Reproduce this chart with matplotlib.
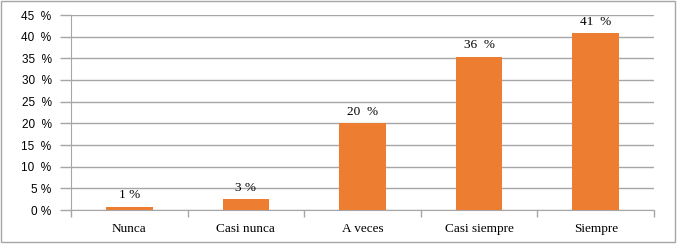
import numpy as np
import matplotlib
matplotlib.use("Agg")
import matplotlib.pyplot as plt
from matplotlib.patches import Rectangle

categories = ["Nunca", "Casi nunca", "A veces", "Casi siempre", "Siempre"]
values = [0.8, 2.5, 20.0, 35.4, 40.9]
bar_labels = ["1 %", "3 %", "20  %", "36  %", "41  %"]
yticks = [0, 5, 10, 15, 20, 25, 30, 35, 40, 45]
ytick_labels = ["0 %", "5 %", "10  %", "15  %", "20  %", "25  %", "30  %", "35  %", "40  %", "45  %"]

grid_c = "#a6a6a6"
bar_c = "#ed7d31"

fig = plt.figure(figsize=(6.84, 2.49), dpi=100)
ax = fig.add_axes([71/684, 39/249, 583/684, 195/249])

x = np.arange(len(categories))
ax.bar(x, values, width=0.4, color=bar_c, zorder=3)
for xi, v, lab in zip(x, values, bar_labels):
    ax.text(xi, v + 1.2, lab, ha="center", va="bottom",
            family="Liberation Serif", fontsize=9.5)

ax.set_xlim(-0.5, len(categories) - 0.5)
ax.set_ylim(0, 45)
ax.set_yticks(yticks)
ax.set_yticklabels(ytick_labels, family="Liberation Sans", fontsize=8.5)
ax.yaxis.grid(True, color=grid_c, linewidth=1, zorder=0)

# category labels between boundary ticks
ax.set_xticks(np.arange(-0.5, len(categories), 1))
ax.set_xticklabels([])
ax.set_xticks(x, minor=True)
ax.set_xticklabels(categories, minor=True, family="Liberation Serif", fontsize=9.5)
ax.tick_params(axis="x", which="minor", length=0, pad=9)
ax.tick_params(axis="x", which="major", length=5, color=grid_c, width=1)
ax.tick_params(axis="y", length=8, color=grid_c, width=1, pad=6)

for s in ["top", "right"]:
    ax.spines[s].set_visible(False)
for s in ["left", "bottom"]:
    ax.spines[s].set_color(grid_c)

fig.patches.append(Rectangle((1/684, 7/249), 674/684, 241/249, transform=fig.transFigure,
                             fill=False, edgecolor="#a6a6a6", linewidth=1))

fig.savefig("out.png", dpi=100)
